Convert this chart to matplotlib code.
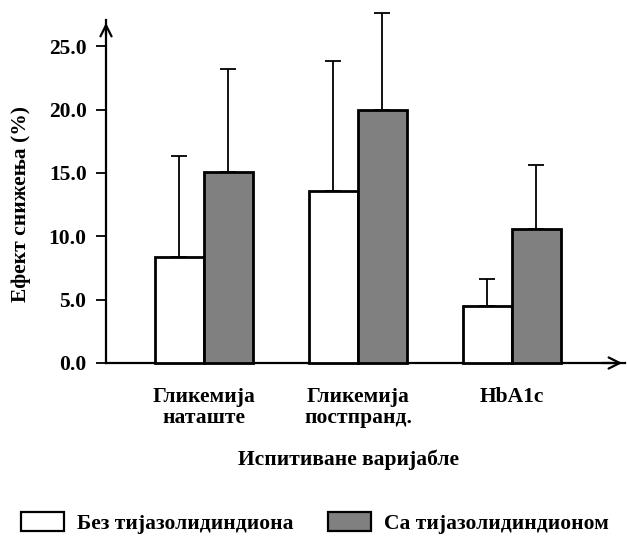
import matplotlib
matplotlib.use("Agg")
import matplotlib.pyplot as plt
import numpy as np
from matplotlib.patches import Patch

categories = ["Гликемија\nнаташте", "Гликемија\nпостпранд.", "HbA1c"]
series_names = ["Без тијазолидиндиона", "Са тијазолидиндионом"]
without_tzd = [8.4, 13.6, 4.5]
without_tzd_err = [7.9, 10.2, 2.1]
with_tzd = [15.1, 20.0, 10.6]
with_tzd_err = [8.1, 7.6, 5.0]
yticks = [0.0, 5.0, 10.0, 15.0, 20.0, 25.0]

plt.rcParams['font.family'] = ['Liberation Serif', 'DejaVu Serif']
plt.rcParams['font.weight'] = 'bold'
FS = 15.5

W, H = 627, 536
fig = plt.figure(figsize=(W / 100, H / 100), dpi=100)
ax = fig.add_axes([106 / W, 1 - 363 / H, (625 - 106) / W, (363 - 20) / H])

x = np.arange(len(categories))
bw = 0.318
err_kw = dict(ecolor='black', elinewidth=1.3, capsize=6, capthick=1.3)
ax.bar(x - bw / 2, without_tzd, bw, color='white', edgecolor='black', linewidth=2.0,
       zorder=3, clip_on=False)
ax.bar(x + bw / 2, with_tzd, bw, color='#808080', edgecolor='black', linewidth=2.0,
       zorder=3, clip_on=False)
for xs, v, e in [(x - bw / 2, without_tzd, without_tzd_err), (x + bw / 2, with_tzd, with_tzd_err)]:
    eb = ax.errorbar(xs, v, yerr=[np.zeros(len(e)), e], fmt='none', zorder=2, **err_kw)
    for c in eb.get_children():
        c.set_clip_on(False)

ax.set_xlim(-0.636, 2.734)
ax.set_ylim(0, 27.07)
ax.set_yticks(yticks)
ax.set_yticklabels([f"{t:.1f}" for t in yticks], fontsize=FS, fontweight='bold')
ax.set_xticks(x)
ax.set_xticklabels(categories, fontsize=FS, fontweight='bold', linespacing=1.12)
ax.tick_params(axis='x', length=0, pad=17)
ax.tick_params(axis='y', direction='out', length=7, width=1.3, pad=7)

for s in ['top', 'right']:
    ax.spines[s].set_visible(False)
for s in ['left', 'bottom']:
    ax.spines[s].set_linewidth(1.6)

# axis arrows
ax.annotate('', xy=(0, 1.0), xytext=(0, 0.95), xycoords='axes fraction',
            arrowprops=dict(arrowstyle='->', lw=1.6, color='black', mutation_scale=20))
ax.annotate('', xy=(1.0, 0), xytext=(0.95, 0), xycoords='axes fraction',
            arrowprops=dict(arrowstyle='->', lw=1.6, color='black', mutation_scale=20))

ax.set_ylabel("Ефект снижења (%)", fontsize=FS, fontweight='bold')
ax.yaxis.set_label_coords(-0.145, 0.464)
ax.set_xlabel("Испитиване варијабле", fontsize=FS, fontweight='bold')
ax.xaxis.set_label_coords(0.468, -0.253)

handles = [Patch(facecolor='white', edgecolor='black', linewidth=1.6),
           Patch(facecolor='#808080', edgecolor='black', linewidth=1.6)]
fig.legend(handles, series_names, loc='lower left', bbox_to_anchor=(19 / W, 0.0),
           ncol=2, frameon=False, fontsize=FS, handlelength=2.0, handleheight=1.0,
           handletextpad=0.6, columnspacing=1.6, borderpad=0.1, borderaxespad=0.0,
           prop={'weight': 'bold', 'size': FS})

fig.savefig("out.png", dpi=100)
